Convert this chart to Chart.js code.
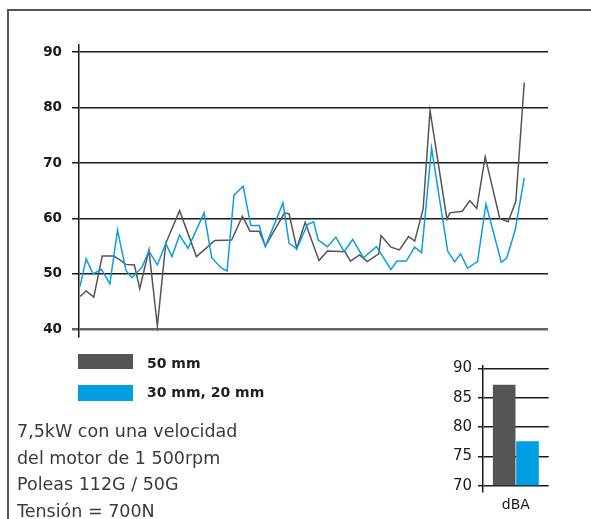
<!DOCTYPE html>
<html>
<head>
<meta charset="utf-8">
<script src="https://cdn.jsdelivr.net/npm/chart.js@4.4.1/dist/chart.umd.min.js"></script>
<style>
  html, body { margin:0; padding:0; background:#fff; overflow:hidden; }
  body { width:591px; height:519px; position:relative; font-family:"DejaVu Sans", sans-serif; }
  #frameTop { position:absolute; left:7px; top:9px; width:584px; height:2px; background:#555; }
  #frameLeft { position:absolute; left:7px; top:9px; width:2px; height:510px; background:#555; }
  #mainWrap { position:absolute; left:0; top:0; width:591px; height:360px; }
  #barWrap { position:absolute; left:440px; top:340px; width:151px; height:179px; }
  .sw { position:absolute; left:78px; width:55px; }
  .lg { position:absolute; left:147px; font-weight:bold; font-size:14px; line-height:18px; color:#1e1e1e; white-space:nowrap; }
  #note { position:absolute; left:17px; top:418px; font-size:17.5px; line-height:26.5px; color:#3a3a3a; white-space:nowrap; }
</style>
</head>
<body>
<div id="frameTop"></div>
<div id="frameLeft"></div>
<div id="mainWrap"><canvas id="main" width="591" height="360"></canvas></div>
<div id="barWrap"><canvas id="bar" width="151" height="179"></canvas></div>
<div class="sw" style="top:354px;height:15px;background:#555555"></div>
<div class="sw" style="top:385px;height:16px;background:#009fe3"></div>
<div class="lg" style="top:354px">50 mm</div>
<div class="lg" style="top:383px">30 mm, 20 mm</div>
<div id="note">7,5kW con una velocidad<br>del motor de 1 500rpm<br>Poleas 112G / 50G<br>Tensión = 700N</div>
<script>
// ---- data ----
const seriesNames = ['50 mm', '30 mm, 20 mm'];
const yTicks = [40, 50, 60, 70, 80, 90];
// 50 mm (gray): sample position and dBA level
const grayX = [0.0,0.8,1.8,2.9,4.4,5.2,6.0,7.1,7.8,9.0,10.1,11.2,13.0,15.2,17.6,19.8,21.2,22.2,23.4,24.2,26.7,27.3,28.3,29.4,31.2,32.3,34.6,35.3,36.5,37.5,39.0,39.3,40.6,41.7,42.9,43.7,44.8,45.7,47.9,48.3,49.9,50.9,51.8,52.9,54.8,55.9,56.9,58.0];
const grayY = [45.9,46.9,45.8,53.2,53.2,52.5,51.7,51.6,47.3,54.3,40.6,55.5,61.4,53.1,56.0,56.1,60.4,57.7,57.7,55.0,61.0,60.8,54.6,59.3,52.4,54.1,54.0,52.3,53.4,52.2,53.6,56.9,54.8,54.3,56.7,55.9,61.7,79.5,59.9,61.0,61.3,63.2,61.8,71.1,60.0,59.4,63.1,84.5];
// 30 mm, 20 mm (blue)
const blueX = [0.0,0.8,1.7,2.8,3.9,4.9,6.0,6.8,8.1,9.0,10.1,11.2,12.0,13.0,14.1,16.2,17.2,18.4,19.2,20.1,21.3,22.3,23.4,24.2,26.5,27.3,28.3,29.7,30.5,31.1,32.3,33.4,34.5,35.6,37.0,38.7,40.6,41.4,42.6,43.7,44.6,45.9,48.0,48.9,49.7,50.6,51.9,53.0,55.0,55.7,56.8,58.0];
const blueY = [47.7,52.7,50.0,50.8,48.2,57.9,50.6,49.3,51.2,54.1,51.6,55.5,53.1,57.0,54.6,61.0,52.9,51.1,50.5,64.2,65.8,58.7,58.7,54.9,62.8,55.5,54.5,58.9,59.4,56.1,54.9,56.6,54.0,56.2,52.9,54.9,50.8,52.3,52.3,54.8,53.8,72.7,54.1,52.2,53.6,51.0,52.2,62.6,52.1,52.8,57.8,67.3];
// overall level bar chart
const barCategories = ['dBA'];
const barValues = [87.2, 77.6];
const barTicks = [70, 75, 80, 85, 90];

const GRAY = '#555555', BLUE = '#0a9ee0', INK = '#1a1a1a';
const pts = (xs, ys) => xs.map((x, i) => ({ x, y: ys[i] }));

new Chart(document.getElementById('main'), {
  type: 'line',
  data: {
    datasets: [
      { label: seriesNames[0], data: pts(grayX, grayY), borderColor: GRAY, borderWidth: 1.5, pointRadius: 0, tension: 0, order: 2 },
      { label: seriesNames[1], data: pts(blueX, blueY), borderColor: BLUE, borderWidth: 1.5, pointRadius: 0, tension: 0, order: 1 }
    ]
  },
  options: {
    responsive: false, animation: false, events: [],
    layout: { padding: { left: 0, right: 43, top: 45, bottom: 23.6 } },
    plugins: { legend: { display: false }, tooltip: { enabled: false } },
    scales: {
      x: { type: 'linear', min: -0.13, max: 61.1, display: false },
      y: {
        min: 38.7, max: 91.3,
        afterFit: s => { s.width = 79; },
        afterBuildTicks: s => { s.ticks = yTicks.map(v => ({ value: v })); },
        ticks: { padding: 10, color: INK, font: { family: 'DejaVu Sans', weight: 'bold', size: 13.5 } },
        grid: {
          color: c => (c.tick && c.tick.value === 40) ? '#666' : INK,
          lineWidth: c => (c.tick && c.tick.value === 40) ? 2.5 : 1.5,
          tickLength: 7
        },
        border: { color: INK, width: 1.5 }
      }
    }
  }
});

new Chart(document.getElementById('bar'), {
  type: 'bar',
  data: {
    labels: barCategories,
    datasets: [
      { label: seriesNames[0], data: [barValues[0]], backgroundColor: GRAY, base: 70 },
      { label: seriesNames[1], data: [barValues[1]], backgroundColor: '#009fe3', base: 70 }
    ]
  },
  options: {
    responsive: false, animation: false, events: [],
    categoryPercentage: 0.71, barPercentage: 0.97,
    layout: { padding: { left: 0, right: 42.3, top: 25.4, bottom: 0 } },
    plugins: { legend: { display: false }, tooltip: { enabled: false } },
    scales: {
      x: {
        grid: { display: false, drawTicks: false }, border: { display: false },
        ticks: { padding: 6, color: INK, font: { family: 'DejaVu Sans', size: 14 } },
        afterFit: s => { s.height = 27.7; }
      },
      y: {
        min: 69.1, max: 90.5,
        afterFit: s => { s.width = 43; },
        afterBuildTicks: s => { s.ticks = barTicks.map(v => ({ value: v })); },
        ticks: { padding: 6, color: INK, font: { family: 'DejaVu Sans', size: 15 } },
        grid: { color: INK, lineWidth: 1.5, tickLength: 5 },
        border: { color: INK, width: 1.5 }
      }
    }
  }
});
</script>
</body>
</html>
